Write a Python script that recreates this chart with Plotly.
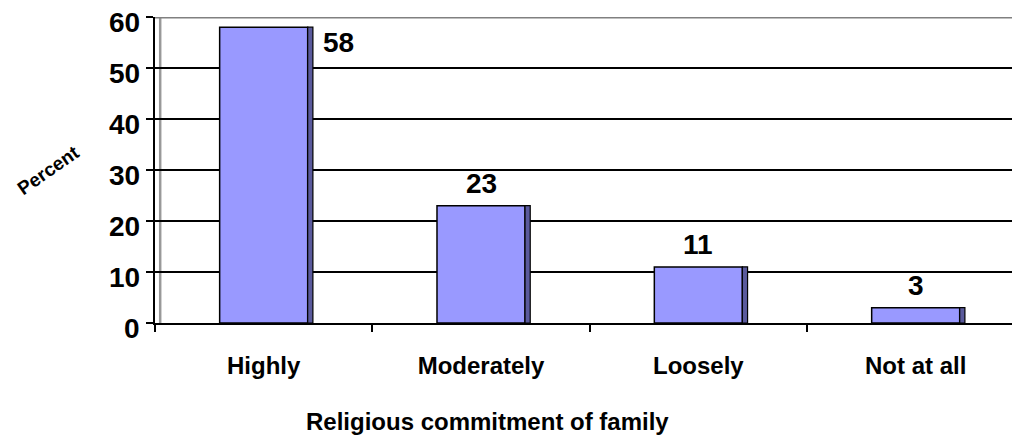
import plotly.graph_objects as go

categories = ["Highly", "Moderately", "Loosely", "Not at all"]
percent = [58, 23, 11, 3]
y_ticks = [0, 10, 20, 30, 40, 50, 60]

FRONT = "#9999FF"
SIDE = "#5A5A9C"
FONT = "Liberation Sans, Arial, sans-serif"
BOLD = dict(family=FONT, size=24, color="black", weight="bold")
NUM = dict(family=FONT, size=28, color="black", weight="bold")

fig = go.Figure()

# front face of each bar
fig.add_trace(go.Bar(
    x=categories, y=percent,
    width=0.405, offset=-0.2025,
    marker=dict(color=FRONT, line=dict(color="black", width=1.5)),
    hoverinfo="x+y",
))
# thin darker side face (fake 3D)
fig.add_trace(go.Bar(
    x=categories, y=percent,
    width=0.024, offset=0.2025,
    marker=dict(color=SIDE, line=dict(color="black", width=1.2)),
    hoverinfo="skip",
))

# value labels: the tallest sits beside the bar, the others above
for cat, v in zip(categories, percent):
    if v == max(percent):
        fig.add_annotation(x=cat, y=v, xref="x", yref="y", text=str(v),
                           showarrow=False, xshift=75, yshift=-15, font=NUM)
    else:
        fig.add_annotation(x=cat, y=v, xref="x", yref="y", text=str(v),
                           showarrow=False, yshift=22, font=NUM)

# y tick labels drawn as annotations so they can sit a bit low like the original
for t in y_ticks:
    fig.add_annotation(x=0, y=t, xref="paper", yref="y", text=str(t),
                       showarrow=False, xanchor="right", yanchor="middle",
                       xshift=-13, yshift=-5, font=NUM)

# back wall edges (grey)
fig.add_shape(type="line", xref="paper", yref="y", x0=0, x1=1, y0=60, y1=60,
              line=dict(color="#808080", width=3), layer="above")
fig.add_shape(type="line", xref="paper", yref="y", x0=0.006, x1=0.006, y0=0, y1=60,
              line=dict(color="#999999", width=2.5), layer="below")

fig.add_annotation(text="Percent", xref="paper", yref="paper",
                   x=-0.124, y=0.5, xanchor="center", yanchor="middle",
                   showarrow=False, textangle=-35,
                   font=dict(family=FONT, size=19, color="black", weight="bold"))
fig.add_annotation(text="Religious commitment of family", xref="paper", yref="paper",
                   x=0.384, y=-0.322, xanchor="center", yanchor="middle",
                   showarrow=False, font=BOLD)

# page body has an 8px margin, so the margins below are shifted to compensate
fig.update_layout(
    width=1020, height=441,
    margin=dict(l=147, r=8, t=9, b=126, autoexpand=False),
    paper_bgcolor="white", plot_bgcolor="white",
    barmode="overlay", showlegend=False,
    font=BOLD,
    xaxis=dict(
        range=[-0.5, 3.48], tickson="boundaries", ticks="outside", ticklen=7,
        tickwidth=2, tickcolor="black", showline=True, linecolor="black", linewidth=2,
        showgrid=False, tickfont=BOLD, ticklabelstandoff=20, automargin=False,
    ),
    yaxis=dict(
        range=[0, 60], tickvals=y_ticks, ticks="outside", ticklen=7, tickwidth=2,
        tickcolor="black", showline=True, linecolor="black", linewidth=2,
        showgrid=True, gridcolor="black", gridwidth=1.5, zeroline=False,
        showticklabels=False, automargin=False,
    ),
)

fig.write_html("out.html")
